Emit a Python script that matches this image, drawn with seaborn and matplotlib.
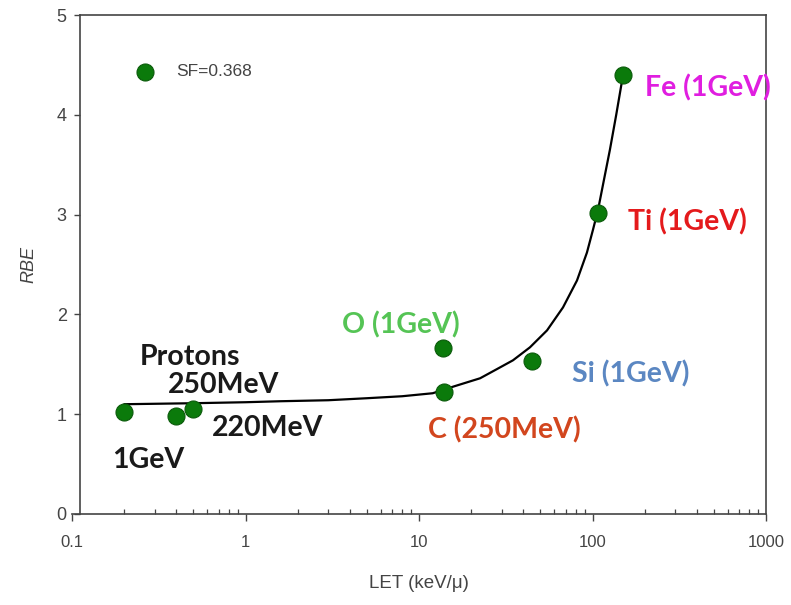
import matplotlib
matplotlib.use("Agg")
import matplotlib.pyplot as plt
import matplotlib.ticker as mticker
import seaborn as sns
import pandas as pd

# Measured RBE at SF=0.368 for each beam
beams = ["p 1GeV", "p 220MeV", "p 250MeV", "O 1GeV", "C 250MeV", "Si 1GeV", "Ti 1GeV", "Fe 1GeV"]
let_values = [0.2, 0.4, 0.5, 13.7, 14.0, 45.0, 108.0, 150.0]
rbe_values = [1.02, 0.98, 1.05, 1.66, 1.22, 1.53, 3.02, 4.40]

# Fitted RBE-LET trend
curve_let = [0.2, 0.5, 1.0, 1.6, 3, 5, 8, 12, 16, 22.5, 28, 34.8, 43.6, 54.7,
             67.6, 81.4, 92.9, 100.7, 107.7, 118, 126, 137, 150]
curve_rbe = [1.10, 1.11, 1.12, 1.13, 1.14, 1.16, 1.18, 1.21, 1.28, 1.36, 1.45, 1.54, 1.67, 1.84,
             2.07, 2.34, 2.62, 2.85, 3.05, 3.40, 3.65, 4.00, 4.40]

x_ticks = [0.1, 1, 10, 100, 1000]
x_tick_labels = ["0.1", "1", "10", "100", "1000"]
y_ticks = [0, 1, 2, 3, 4, 5]

ion_labels = ["Fe (1GeV)", "Ti (1GeV)", "O (1GeV)", "Si (1GeV)", "C (250MeV)",
              "Protons", "250MeV", "220MeV", "1GeV"]
ion_colors = ["#e01ee0", "#e41a1c", "#55c455", "#5b87c2", "#d2461e",
              "#1a1a1a", "#1a1a1a", "#1a1a1a", "#1a1a1a"]
ion_label_pos = [(0.826, 0.854), (0.801, 0.585), (0.389, 0.379), (0.720, 0.281),
                 (0.513, 0.168), (0.098, 0.315), (0.138, 0.259), (0.202, 0.172),
                 (0.058, 0.108)]

points = pd.DataFrame({"beam": beams, "LET": let_values, "RBE": rbe_values})
curve = pd.DataFrame({"LET": curve_let, "RBE": curve_rbe})

sns.set_theme(style="white")
plt.rcParams["font.family"] = ["Liberation Sans", "DejaVu Sans"]

W, H = 791, 605
fig = plt.figure(figsize=(W / 100, H / 100), dpi=100)
ax = fig.add_axes([72 / W, (H - 514) / H, (766 - 72) / W, (514 - 15) / H])

axis_grey = "#444444"

sns.lineplot(data=curve, x="LET", y="RBE", ax=ax, color="black", linewidth=1.6,
             sort=False, estimator=None, zorder=2)
sns.scatterplot(data=points, x="LET", y="RBE", ax=ax, color="#0b7a0b",
                edgecolor="#0a5a0a", linewidth=0.8, s=150, zorder=3,
                label="SF=0.368")

ax.set_xscale("log")
ax.set_xlim(0.1, 1000)
ax.set_ylim(0, 5)
ax.set_xticks(x_ticks)
ax.set_xticklabels(x_tick_labels)
ax.xaxis.set_minor_locator(mticker.LogLocator(base=10, subs=range(2, 10), numticks=20))
ax.xaxis.set_minor_formatter(mticker.NullFormatter())
ax.set_yticks(y_ticks)

ax.tick_params(axis="x", which="major", direction="out", length=5, width=1,
               color=axis_grey, labelsize=12, labelcolor=axis_grey, pad=10, bottom=True)
ax.tick_params(axis="x", which="minor", direction="in", length=3.5, width=0.9,
               color=axis_grey, bottom=True)
ax.tick_params(axis="y", which="major", direction="out", length=4.5, width=1,
               color=axis_grey, labelsize=13, labelcolor=axis_grey, pad=5, left=True)

for side in ["left", "right", "top", "bottom"]:
    ax.spines[side].set_visible(True)
    ax.spines[side].set_color(axis_grey)
    ax.spines[side].set_linewidth(1.2)
ax.spines["left"].set_position(("axes", 8 / 694))
ax.spines["top"].set_bounds(10 ** (-1 + 8 / 173.5), 1000)

ax.set_xlabel("LET (keV/\u03bc)", fontsize=13.5, color=axis_grey, labelpad=18)
ax.set_ylabel("RBE", fontsize=13, color=axis_grey, style="italic", labelpad=14)

leg = ax.legend(loc="center left", bbox_to_anchor=(0.092, 0.886), frameon=False,
                fontsize=12.5, handlelength=1.0, handletextpad=1.3, borderpad=0,
                borderaxespad=0, markerscale=1.0)
for t in leg.get_texts():
    t.set_color(axis_grey)

for label, color, (fx, fy) in zip(ion_labels, ion_colors, ion_label_pos):
    ax.text(fx, fy, label, transform=ax.transAxes, color=color, fontsize=20.5,
            fontweight="bold", family=["Lato", "DejaVu Sans"], ha="left", va="center")

fig.savefig("out.png", dpi=100)
